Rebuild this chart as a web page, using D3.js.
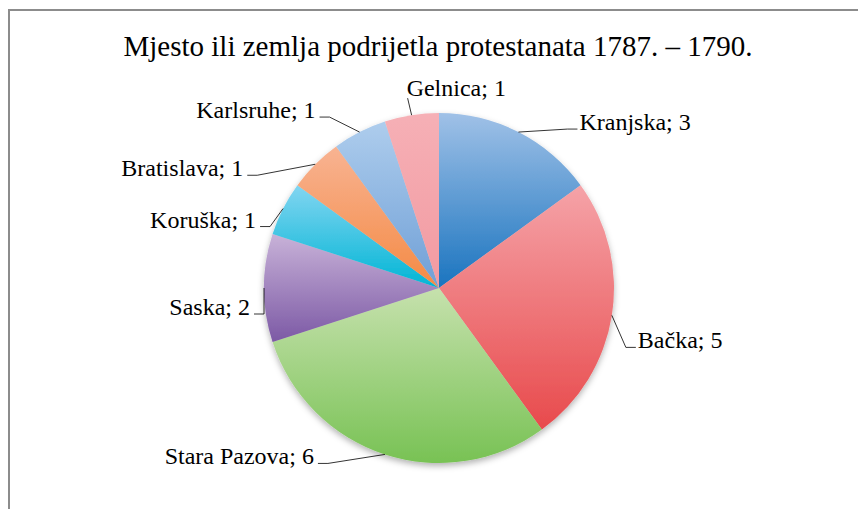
<!DOCTYPE html>
<html lang="hr">
<head>
<meta charset="utf-8">
<script src="https://cdn.jsdelivr.net/npm/d3@7"></script>
<style>
  body { margin: 0; background: #fff; }
  text { font-family: "Liberation Serif", "Times New Roman", serif; fill: #000; }
  .leader { fill: none; stroke: #000; stroke-width: 0.8; }
</style>
</head>
<body>
<svg id="chart" width="858" height="509"></svg>
<script>
  // data
  var categories = ["Kranjska", "Bačka", "Stara Pazova", "Saska", "Koruška", "Bratislava", "Karlsruhe", "Gelnica"];
  var values = [3, 5, 6, 2, 1, 1, 1, 1];
  var colorTop = ["#a0c1e7", "#f5a3a8", "#c6e1ad", "#c8b2d8", "#82d5f1", "#f8b392", "#aecded", "#f6b0b6"];
  var colorBottom = ["#1a74bf", "#e84a4c", "#78c254", "#7c59a5", "#00b5d5", "#f48a44", "#6f9fd6", "#f29aa1"];
  var title = "Mjesto ili zemlja podrijetla protestanata 1787. – 1790.";

  // label layout: end of leader relative to the slice's edge point, and which side the text sits
  var labelEnd = [[59, -3], [24, 32], [-67, 9], [-10, 26], [-23, 18], [-68, 11], [-40, -15], [-4, -17]];
  var labelSide = ["right", "right", "left", "left", "left", "left", "left", "top"];

  var svg = d3.select("#chart"),
      width = +svg.attr("width"),
      height = +svg.attr("height");

  // chart frame (only top and left edges are inside the picture)
  svg.append("path")
      .attr("d", "M9," + height + "V10H" + width)
      .attr("fill", "none")
      .attr("stroke", "#8c8c8c")
      .attr("stroke-width", 2);

  svg.append("text")
      .attr("x", 438)
      .attr("y", 56)
      .attr("text-anchor", "middle")
      .style("font-size", "29px")
      .text(title);

  var cx = 439, cy = 288, r = 175;

  var defs = svg.append("defs");
  var shadow = defs.append("filter").attr("id", "shadow")
      .attr("x", "-10%").attr("y", "-10%").attr("width", "120%").attr("height", "125%");
  shadow.append("feDropShadow")
      .attr("dx", 0).attr("dy", 3).attr("stdDeviation", 3)
      .attr("flood-color", "#000").attr("flood-opacity", 0.3);

  categories.forEach(function(c, i) {
    var g = defs.append("linearGradient").attr("id", "grad" + i)
        .attr("x1", 0).attr("y1", 0).attr("x2", 0).attr("y2", 1);
    g.append("stop").attr("offset", "0%").attr("stop-color", colorTop[i]);
    g.append("stop").attr("offset", "100%").attr("stop-color", colorBottom[i]);
  });

  var pie = d3.pie().sort(null).value(function(d) { return d; });
  var arcs = pie(values);
  var arc = d3.arc().innerRadius(0).outerRadius(r);

  var g = svg.append("g").attr("transform", "translate(" + cx + "," + cy + ")");

  g.append("g")
      .attr("filter", "url(#shadow)")
    .selectAll("path")
      .data(arcs)
    .enter().append("path")
      .attr("d", arc)
      .attr("fill", function(d, i) { return "url(#grad" + i + ")"; });

  // labels with leader lines
  arcs.forEach(function(d, i) {
    var a = (d.startAngle + d.endAngle) / 2;
    var p0 = [r * Math.sin(a), -r * Math.cos(a)];
    var end = [p0[0] + labelEnd[i][0], p0[1] + labelEnd[i][1]];
    var side = labelSide[i];
    var elbow;
    if (side === "right") elbow = [end[0] - 10, end[1]];
    else if (side === "left") elbow = [end[0] + 10, end[1]];
    else elbow = end;

    g.append("path")
        .attr("class", "leader")
        .attr("d", d3.line()([p0, elbow, end]));

    var t = g.append("text")
        .style("font-size", "24px")
        .text(categories[i] + "; " + values[i]);
    if (side === "right") {
      t.attr("x", end[0] + 2).attr("y", end[1] + 1).attr("text-anchor", "start");
    } else if (side === "left") {
      t.attr("x", end[0] - 4).attr("y", end[1] + 1).attr("text-anchor", "end");
    } else {
      t.attr("x", end[0] - 1).attr("y", end[1] - 2).attr("text-anchor", "start");
    }
  });
</script>
</body>
</html>
